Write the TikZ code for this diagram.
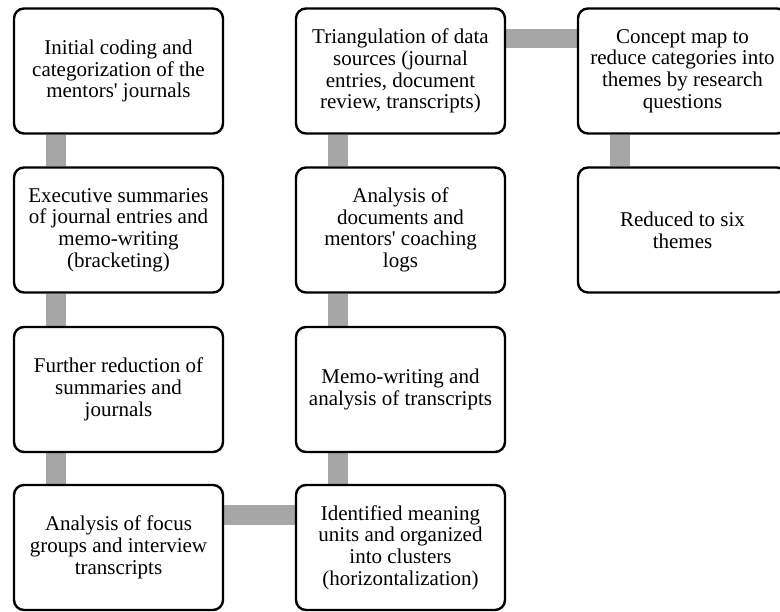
\documentclass[tikz,border=0pt]{standalone}
\usepackage{fontspec}
\setmainfont{Liberation Serif}[Ligatures=TeXOff]
\usetikzlibrary{calc,backgrounds}
\begin{document}
\begin{tikzpicture}[x=1pt,y=-1pt,
  stepbox/.style={draw=black,line width=2.4pt,fill=white,rounded corners=10pt,
    minimum width=209pt,minimum height=125pt,align=center,inner sep=0pt,
    font=\fontsize{21}{21.7}\selectfont},
  link/.style={draw=linkgray,line width=19.5pt}]
\definecolor{linkgray}{HTML}{A6A6A6}
\useasboundingbox (0,0) rectangle (780,612);
\clip (0,0) rectangle (780,612);
% nodes
\node[stepbox] (n1) at (118.5,71) {Initial coding and\\categorization of the\\mentors' journals};
\node[stepbox] (n2) at (118.5,230) {Executive summaries\\of journal entries and\\memo-writing\\(bracketing)};
\node[stepbox] (n3) at (118.5,389.5) {Further reduction of\\summaries and\\journals};
\node[stepbox] (n4) at (118.5,547.5) {Analysis of focus\\groups and interview\\transcripts};
\node[stepbox] (n5) at (400.5,547.5) {Identified meaning\\units and organized\\into clusters\\(horizontalization)};
\node[stepbox] (n6) at (400.5,389.5) {Memo-writing and\\analysis of transcripts};
\node[stepbox] (n7) at (400.5,230) {Analysis of\\documents and\\mentors' coaching\\logs};
\node[stepbox] (n8) at (400.5,71) {Triangulation of data\\sources (journal\\entries, document\\review, transcripts)};
\node[stepbox] (n9) at (682.5,71) {Concept map to\\reduce categories into\\themes by research\\questions};
\node[stepbox] (n10) at (682.5,230) {Reduced to six\\themes};
% connectors (behind boxes)
\begin{pgfonlayer}{background}
\path[link] ($(n1.south west)+(43,0)$) -- ($(n2.north west)+(43,0)$);
\path[link] ($(n2.south west)+(43,0)$) -- ($(n3.north west)+(43,0)$);
\path[link] ($(n3.south west)+(43,0)$) -- ($(n4.north west)+(43,0)$);
\path[link] ($(n4.north east)+(0,31)$) -- ($(n5.north west)+(0,31)$);
\path[link] ($(n5.north west)+(43,0)$) -- ($(n6.south west)+(43,0)$);
\path[link] ($(n6.north west)+(43,0)$) -- ($(n7.south west)+(43,0)$);
\path[link] ($(n7.north west)+(43,0)$) -- ($(n8.south west)+(43,0)$);
\path[link] ($(n8.north east)+(0,31)$) -- ($(n9.north west)+(0,31)$);
\path[link] ($(n9.south west)+(43,0)$) -- ($(n10.north west)+(43,0)$);
\end{pgfonlayer}
\end{tikzpicture}
\end{document}
